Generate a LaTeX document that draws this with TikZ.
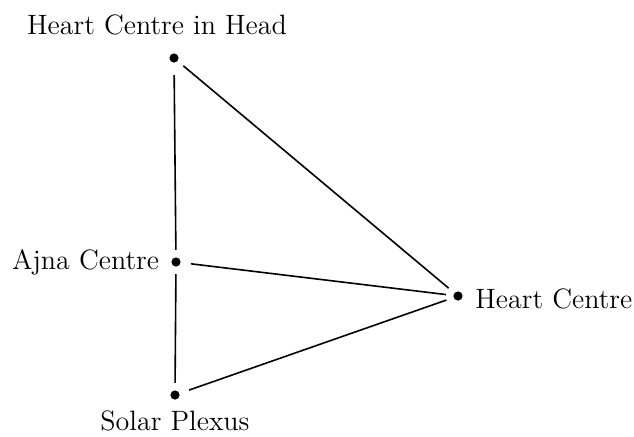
\documentclass[tikz,border=0pt]{standalone}
\usepackage{tikz}
\usetikzlibrary{positioning}

\begin{document}
\begin{tikzpicture}[x=0.5pt,y=-0.5pt,
    centre/.style={circle,fill=black,inner sep=0pt,minimum size=4.6pt},
    lbl/.style={inner sep=0pt,font=\fontsize{14}{17}\selectfont},
    link/.style={line width=0.8pt,shorten <=3.6pt,shorten >=3.6pt}]
    \useasboundingbox (0,0) rectangle (634,436);
    % dot positions taken from the scanned figure (pixels)
    \node[centre] (head)  at (174,58)  {};
    \node[centre] (ajna)  at (176,262) {};
    \node[centre] (solar) at (175,395) {};
    \node[centre] (heart) at (458,296) {};
    \node[lbl,above=8.8pt of head,xshift=-8.5pt] (headlbl) {Heart Centre in Head};
    \node[lbl,left=5.8pt of ajna] (ajnalbl) {Ajna Centre};
    \node[lbl,right=6pt of heart,yshift=-1.5pt] (heartlbl) {Heart Centre};
    \node[lbl,below=5pt of solar] (solarlbl) {Solar Plexus};
    \draw[link,shorten <=6pt] (head) -- (ajna);
    \draw[link] (ajna) -- (solar);
    \draw[link] (head) -- (heart);
    \draw[link,shorten <=5pt] (ajna) -- (heart);
    \draw[link,shorten <=5pt] (solar) -- (heart);
\end{tikzpicture}
\end{document}
